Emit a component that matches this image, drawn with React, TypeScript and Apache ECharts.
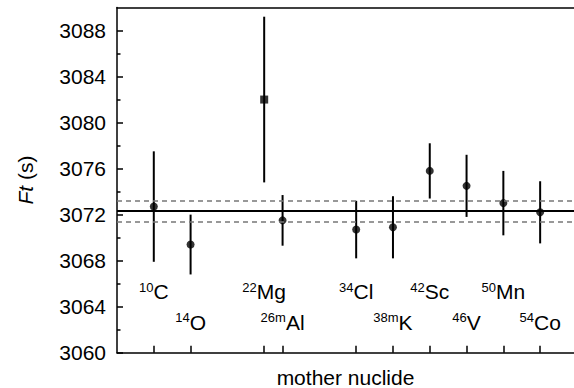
import React, { useEffect, useRef } from "react";
import * as echarts from "echarts";

// Atomic number Z of each mother nuclide (x position)
const zValues = [6, 8, 12, 13, 17, 19, 21, 23, 25, 27];
const massLabels = ["10", "14", "22", "26m", "34", "38m", "42", "46", "50", "54"];
const elementLabels = ["C", "O", "Mg", "Al", "Cl", "K", "Sc", "V", "Mn", "Co"];
const ftValues = [3072.7, 3069.4, 3082.0, 3071.5, 3070.7, 3070.9, 3075.8, 3074.5, 3073.0, 3072.2];
const ftErrors = [4.8, 2.6, 7.2, 2.2, 2.5, 2.7, 2.4, 2.7, 2.8, 2.7];
const markerShapes = ["circle", "circle", "rect", "circle", "circle", "circle", "circle", "circle", "circle", "circle"];
// label rows (y value where the nuclide name is centred)
const labelRowY = [3065.3, 3062.65, 3065.3, 3062.65, 3065.3, 3062.65, 3065.3, 3062.65, 3065.3, 3062.65];

const meanFt = 3072.3;
const meanUpper = 3073.2;
const meanLower = 3071.4;

const yMajorTicks = [3060, 3064, 3068, 3072, 3076, 3080, 3084, 3088];
const yMinorTicks = [3062, 3066, 3070, 3074, 3078, 3082, 3086];

const FONT = "'Liberation Sans', Arial, Helvetica, sans-serif";

export default function App() {
  const ref = useRef<HTMLDivElement>(null);
  useEffect(() => {
    if (!ref.current) return;
    const chart = echarts.init(ref.current, undefined, { renderer: "svg" });
    const xMin = 4;
    const xMax = 28.84;
    const option: any = {
      animation: false,
      backgroundColor: "#fff",
      textStyle: { fontFamily: FONT, color: "#000" },
      grid: { left: 117, right: 0, top: 7.5, bottom: 35.3, outerBoundsMode: "none", containLabel: false },
      xAxis: [
        {
          type: "value",
          min: xMin,
          max: xMax,
          position: "bottom",
          splitLine: { show: false },
          axisLine: { show: true, lineStyle: { color: "#000", width: 1.5 } },
          axisTick: { show: true, inside: true, length: 7, customValues: zValues, lineStyle: { color: "#000", width: 1.5 } },
          axisLabel: { show: false },
          name: "mother nuclide",
          nameLocation: "middle",
          nameGap: 14,
          nameTextStyle: { fontSize: 21, color: "#000", fontFamily: FONT },
        },
        {
          type: "value",
          min: xMin,
          max: xMax,
          position: "top",
          splitLine: { show: false },
          axisLine: { show: true, lineStyle: { color: "#000", width: 1.5 } },
          axisTick: { show: false },
          axisLabel: { show: false },
        },
      ],
      yAxis: [
        {
          type: "value",
          min: 3060,
          max: 3090,
          position: "left",
          splitLine: { show: false },
          axisLine: { show: true, lineStyle: { color: "#000", width: 1.5 } },
          axisTick: { show: true, inside: true, length: 6, customValues: yMajorTicks, lineStyle: { color: "#000", width: 1.5 } },
          axisLabel: {
            show: true,
            customValues: yMajorTicks,
            fontSize: 21,
            color: "#000",
            margin: 11,
            fontFamily: FONT,
            formatter: (v: number) => String(Math.round(v)),
          },
          name: "{i|Ft} (s)",
          nameLocation: "middle",
          nameGap: 81,
          nameTextStyle: {
            fontSize: 21,
            color: "#000",
            fontFamily: FONT,
            rich: { i: { fontSize: 21, fontStyle: "italic", fontFamily: FONT, color: "#000" } },
          },
        },
        {
          type: "value",
          min: 3060,
          max: 3090,
          position: "left",
          offset: 0,
          splitLine: { show: false },
          axisLine: { show: false },
          axisTick: { show: true, inside: true, length: 3.5, customValues: yMinorTicks, lineStyle: { color: "#000", width: 1.5 } },
          axisLabel: { show: false },
        },
      ],
      series: [
        {
          type: "custom",
          xAxisIndex: 0,
          yAxisIndex: 0,
          encode: { x: 0, y: [1, 2] },
          data: zValues.map((z, i) => [z, ftValues[i] - ftErrors[i], ftValues[i] + ftErrors[i]]),
          renderItem: (params: any, api: any) => {
            const x = api.value(0);
            const lo = api.coord([x, api.value(1)]);
            const hi = api.coord([x, api.value(2)]);
            return {
              type: "line",
              shape: { x1: lo[0], y1: lo[1], x2: hi[0], y2: hi[1] },
              style: { stroke: "#000", lineWidth: 2 },
            };
          },
          z: 2,
        },
        {
          type: "scatter",
          xAxisIndex: 0,
          yAxisIndex: 0,
          data: zValues.map((z, i) => ({
            value: [z, ftValues[i]],
            symbol: markerShapes[i],
            symbolSize: 8,
          })),
          itemStyle: { color: "#000" },
          z: 3,
          markLine: {
            silent: true,
            symbol: "none",
            label: { show: false },
            data: [
              { yAxis: meanFt, lineStyle: { color: "#000", width: 2, type: "solid" } },
              { yAxis: meanUpper, lineStyle: { color: "#777", width: 1.5, type: [5, 4] } },
              { yAxis: meanLower, lineStyle: { color: "#777", width: 1.5, type: [5, 4] } },
            ],
          },
        },
        {
          type: "scatter",
          xAxisIndex: 0,
          yAxisIndex: 0,
          symbolSize: 0,
          silent: true,
          itemStyle: { color: "#000", opacity: 1 },
          data: zValues.map((z, i) => ({ value: [z, labelRowY[i]] })),
          label: {
            show: true,
            position: "inside",
            color: "#000",
            opacity: 1,
            textBorderWidth: 0,
            formatter: (p: any) => `{s|${massLabels[p.dataIndex]}}{m|${elementLabels[p.dataIndex]}}`,
            rich: {
              s: { fontSize: 13, fontFamily: FONT, color: "#000", verticalAlign: "top", lineHeight: 13 },
              m: { fontSize: 21, fontFamily: FONT, color: "#000", lineHeight: 22 },
            },
          },
        },
      ],
    };
    chart.setOption(option);
    return () => chart.dispose();
  }, []);
  return <div ref={ref} style={{ width: 574, height: 388, position: "absolute", left: 0, top: 0 }} />;
}
